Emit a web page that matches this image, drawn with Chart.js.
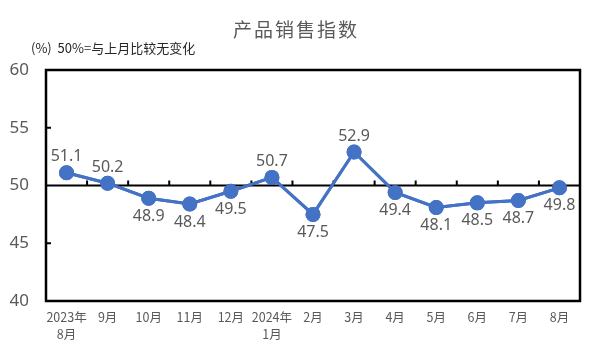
<!DOCTYPE html>
<html>
<head>
<meta charset="utf-8">
<script src="https://cdn.jsdelivr.net/npm/chart.js@4.4.1/dist/chart.umd.min.js"></script>
<style>
  html, body { margin: 0; padding: 0; background: #fff; }
  #wrap { width: 591px; height: 354px; }
</style>
</head>
<body>
<div id="wrap"><canvas id="sales-index"></canvas></div>
<script>
// 产品销售指数
const months = [['2023年', '8月'], '9月', '10月', '11月', '12月', ['2024年', '1月'], '2月', '3月', '4月', '5月', '6月', '7月', '8月'];
const salesIndex = [51.1, 50.2, 48.9, 48.4, 49.5, 50.7, 47.5, 52.9, 49.4, 48.1, 48.5, 48.7, 49.8];
const labelAbove = [true, true, false, false, false, true, false, true, false, false, false, false, false];
const yTicks = [40, 45, 50, 55, 60];

const grey = '#595959';
const cjk = '"Noto Sans CJK SC", "Noto Sans", sans-serif';

// titre, cadre, ligne 50, petites graduations, étiquettes
const decor = {
  id: 'decor',
  afterDatasetsDraw(chart) {
    const { ctx, chartArea: a, scales: { x, y } } = chart;
    ctx.save();
    ctx.fillStyle = grey;
    ctx.font = '19px ' + cjk;
    ctx.letterSpacing = '2px';
    ctx.textAlign = 'center';
    ctx.textBaseline = 'middle';
    ctx.fillText('产品销售指数', 296, 30);
    ctx.letterSpacing = '0px';
    ctx.font = '13px ' + cjk;
    ctx.textAlign = 'left';
    ctx.fillStyle = '#262626';
    ctx.fillText('(%)  50%=与上月比较无变化', 31, 48);

    // ligne 50 et graduations
    const y50 = y.getPixelForValue(50);
    ctx.strokeStyle = '#000';
    ctx.lineWidth = 2;
    ctx.beginPath();
    ctx.moveTo(a.left, y50);
    ctx.lineTo(a.right, y50);
    for (let i = 1; i < months.length; i++) {
      const px = (x.getPixelForValue(i - 1) + x.getPixelForValue(i)) / 2;
      ctx.moveTo(px, y50);
      ctx.lineTo(px, y50 - 5);
    }
    [45, 55].forEach(v => {
      const py = y.getPixelForValue(v);
      ctx.moveTo(a.left, py);
      ctx.lineTo(a.left + 5, py);
    });
    ctx.stroke();
    ctx.lineWidth = 2.5;
    ctx.strokeRect(a.left, a.top, a.right - a.left, a.bottom - a.top);
    ctx.restore();

    // redessiner la courbe au-dessus de la ligne 50
    chart.getDatasetMeta(0).controller.draw();

    ctx.save();
    ctx.fillStyle = grey;
    ctx.font = '16px "Noto Sans", sans-serif';
    ctx.textAlign = 'center';
    ctx.textBaseline = 'middle';
    chart.getDatasetMeta(0).data.forEach((pt, i) => {
      const dy = labelAbove[i] ? -16 : 18;
      ctx.fillText(salesIndex[i].toFixed(1), pt.x, pt.y + dy);
    });
    ctx.restore();
  }
};

new Chart(document.getElementById('sales-index'), {
  type: 'line',
  data: {
    labels: months,
    datasets: [{
      data: salesIndex,
      borderColor: '#4472C4',
      backgroundColor: '#4472C4',
      borderWidth: 3,
      pointRadius: 6,
      pointHoverRadius: 6,
      tension: 0
    }]
  },
  options: {
    responsive: true,
    maintainAspectRatio: false,
    animation: false,
    layout: { padding: { top: 70, right: 11, left: 0, bottom: 0 } },
    plugins: { legend: { display: false }, tooltip: { enabled: false } },
    scales: {
      x: {
        offset: true,
        grid: { display: false, drawTicks: false },
        border: { display: false },
        ticks: { color: grey, font: { size: 12.5, family: cjk, lineHeight: 1.35 }, padding: 8, maxRotation: 0, autoSkip: false },
        afterFit: s => { s.height = 53; }
      },
      y: {
        min: 40,
        max: 60,
        afterBuildTicks: s => { s.ticks = yTicks.map(v => ({ value: v })); },
        grid: { display: false, drawTicks: false },
        border: { display: false },
        ticks: { color: grey, font: { size: 17, family: '"Noto Sans", sans-serif' }, padding: 17 },
        afterFit: s => { s.width = 46; }
      }
    }
  },
  plugins: [decor]
});
</script>
</body>
</html>
